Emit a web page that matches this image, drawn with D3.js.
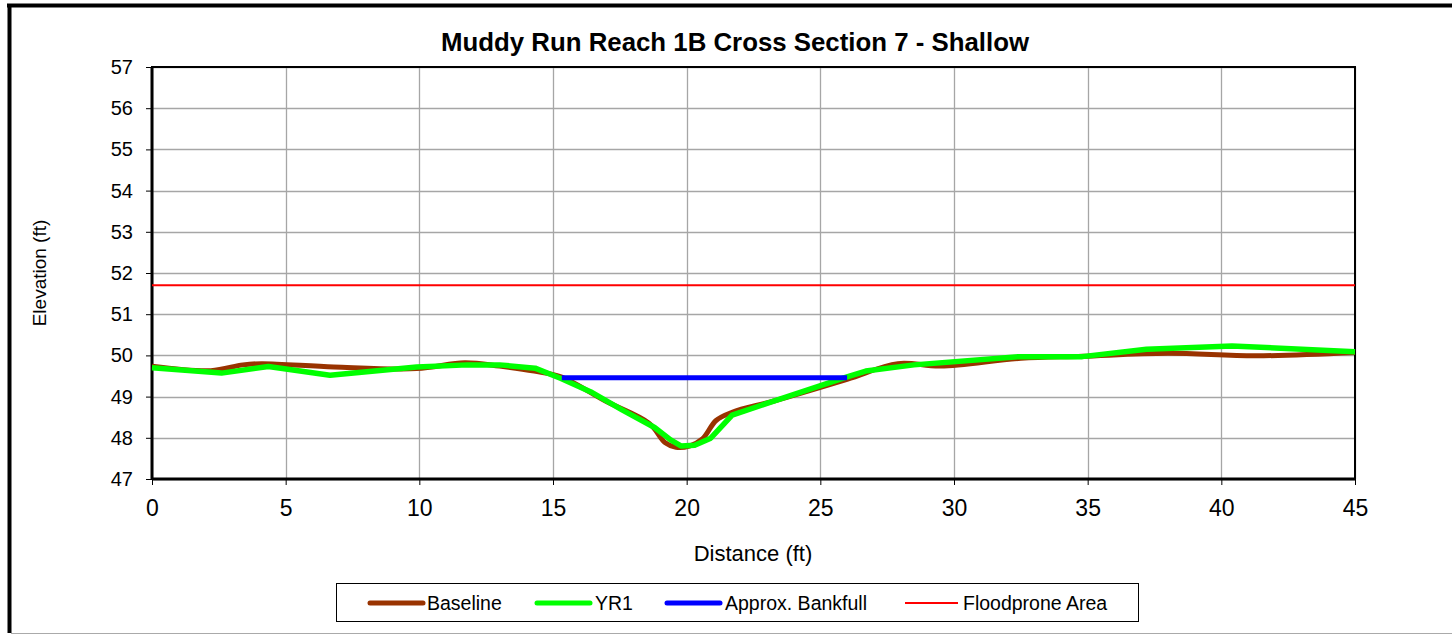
<!DOCTYPE html>
<html>
<head>
<meta charset="utf-8">
<script src="https://cdn.jsdelivr.net/npm/d3@7"></script>
<style>
  html, body { margin: 0; padding: 0; background: #fff; }
  svg { display: block; font-family: "Liberation Sans", Arial, sans-serif; }
</style>
</head>
<body>
<svg id="chart" width="1452" height="635"></svg>
<script>
const title = "Muddy Run Reach 1B Cross Section 7 - Shallow";
const xTicks = [0, 5, 10, 15, 20, 25, 30, 35, 40, 45];
const yTicks = [47, 48, 49, 50, 51, 52, 53, 54, 55, 56, 57];

const baselineX = [0, 2.2, 3.4, 4.1, 6.8, 9.9, 11.7, 13.0, 14.3, 15.3, 17.0, 18.6, 19.2, 19.6, 20.1, 20.6, 21.1, 21.7, 23.3, 26.0, 27.9, 29.5, 32.5, 34.8, 38.0, 41.3, 45];
const baselineY = [49.74, 49.63, 49.77, 49.80, 49.72, 49.68, 49.82, 49.74, 49.62, 49.48, 48.88, 48.35, 47.88, 47.77, 47.80, 47.98, 48.42, 48.62, 48.90, 49.42, 49.80, 49.74, 49.93, 49.98, 50.05, 49.99, 50.07];

const yr1X = [0, 2.6, 4.35, 6.66, 9.9, 11.8, 13.0, 14.33, 15.3, 16.4, 17.6, 18.8, 19.4, 19.8, 20.3, 20.9, 21.7, 23.2, 26.0, 26.7, 28.5, 32.4, 34.8, 37.2, 40.4, 45];
const yr1Y = [49.70, 49.57, 49.73, 49.52, 49.72, 49.77, 49.77, 49.69, 49.44, 49.12, 48.67, 48.25, 47.95, 47.80, 47.82, 47.99, 48.55, 48.88, 49.48, 49.62, 49.77, 49.97, 49.97, 50.15, 50.23, 50.09];

const bankfullX = [15.33, 26.0];
const bankfullY = [49.46, 49.46];

const floodX = [0, 45];
const floodY = [51.7, 51.7];

const legendNames = ["Baseline", "YR1", "Approx. Bankfull", "Floodprone Area"];
const legendColors = ["#993300", "#00FF00", "#0000FF", "#FF0000"];

const svg = d3.select("#chart");

// outer frame
svg.append("line").attr("x1", 9.5).attr("x2", 9.5).attr("y1", 4).attr("y2", 633)
  .attr("stroke", "#000").attr("stroke-width", 4);
svg.append("line").attr("x1", 7).attr("x2", 1452).attr("y1", 5.5).attr("y2", 5.5)
  .attr("stroke", "#000").attr("stroke-width", 4);
svg.append("line").attr("x1", 11).attr("x2", 1452).attr("y1", 633.5).attr("y2", 633.5)
  .attr("stroke", "#aaa").attr("stroke-width", 1);

const L = 152, R = 1355, T = 67, B = 479;
const x = d3.scaleLinear().domain([0, 45]).range([L, R]);
const y = d3.scaleLinear().domain([47, 57]).range([B, T]);

// title
svg.append("text").attr("x", 735).attr("y", 51).attr("text-anchor", "middle")
  .attr("font-size", 25).attr("font-weight", "bold")
  .attr("textLength", 588).attr("lengthAdjust", "spacingAndGlyphs").text(title);

// gridlines
const g = svg.append("g");
g.selectAll(".hg").data(yTicks).join("line")
  .attr("x1", L).attr("x2", R).attr("y1", d => Math.round(y(d)) + 0.5).attr("y2", d => Math.round(y(d)) + 0.5)
  .attr("stroke", "#a6a6a6").attr("stroke-width", 1.3);
g.selectAll(".vg").data(xTicks).join("line")
  .attr("y1", T).attr("y2", B).attr("x1", d => Math.round(x(d)) + 0.5).attr("x2", d => Math.round(x(d)) + 0.5)
  .attr("stroke", "#a6a6a6").attr("stroke-width", 1.3);

// axes
const yAxis = d3.axisLeft(y).tickValues(yTicks).tickSize(6).tickPadding(13).tickFormat(d3.format("d"));
const yg = svg.append("g").attr("transform", `translate(${L},0)`).call(yAxis);
yg.select(".domain").remove();
yg.selectAll("text").attr("font-size", 20).attr("fill", "#000").attr("font-family", "Liberation Sans, Arial, sans-serif");
yg.selectAll("line").attr("stroke", "#000");

const xAxis = d3.axisBottom(x).tickValues(xTicks).tickSize(6).tickPadding(15).tickFormat(d3.format("d"));
const xg = svg.append("g").attr("transform", `translate(0,${B})`).call(xAxis);
xg.select(".domain").remove();
xg.selectAll("text").attr("font-size", 23).attr("fill", "#000").attr("font-family", "Liberation Sans, Arial, sans-serif");
xg.selectAll("line").attr("stroke", "#000");

// plot frame
svg.append("rect").attr("x", L).attr("y", T).attr("width", R - L).attr("height", B - T)
  .attr("fill", "none").attr("stroke", "#000").attr("stroke-width", 2);
svg.append("line").attr("x1", L).attr("x2", L).attr("y1", T).attr("y2", B).attr("stroke", "#000").attr("stroke-width", 3);
svg.append("line").attr("x1", L).attr("x2", R).attr("y1", B).attr("y2", B).attr("stroke", "#000").attr("stroke-width", 3);

// axis titles
svg.append("text").attr("x", 753).attr("y", 561).attr("text-anchor", "middle")
  .attr("font-size", 22).text("Distance (ft)");
svg.append("text").attr("transform", "translate(46,273) rotate(-90)").attr("text-anchor", "middle")
  .attr("font-size", 19).text("Elevation (ft)");

// series
const zip = (xs, ys) => xs.map((v, i) => [v, ys[i]]);
const lineStraight = d3.line().x(d => x(d[0])).y(d => y(d[1]));
const lineSmooth = d3.line().x(d => x(d[0])).y(d => y(d[1])).curve(d3.curveCatmullRom.alpha(0.5));

const plot = svg.append("g");
plot.append("path").datum(zip(floodX, floodY)).attr("d", lineStraight)
  .attr("fill", "none").attr("stroke", legendColors[3]).attr("stroke-width", 2);
plot.append("path").datum(zip(baselineX, baselineY)).attr("d", lineSmooth)
  .attr("fill", "none").attr("stroke", legendColors[0]).attr("stroke-width", 5).attr("stroke-linejoin", "round");
plot.append("path").datum(zip(yr1X, yr1Y)).attr("d", lineStraight)
  .attr("fill", "none").attr("stroke", legendColors[1]).attr("stroke-width", 5.5).attr("stroke-linejoin", "round");
plot.append("path").datum(zip(bankfullX, bankfullY)).attr("d", lineStraight)
  .attr("fill", "none").attr("stroke", legendColors[2]).attr("stroke-width", 5);

// legend
const lg = svg.append("g");
lg.append("rect").attr("x", 336.5).attr("y", 583.5).attr("width", 802).attr("height", 38)
  .attr("fill", "#fff").attr("stroke", "#000").attr("stroke-width", 1);
const legLineX = [370, 537, 667, 905];
const legTextX = [427, 595, 725, 963];
const legWidths = [5, 5, 5, 2];
legendNames.forEach((name, i) => {
  lg.append("line").attr("x1", legLineX[i]).attr("x2", legLineX[i] + 53).attr("y1", 603).attr("y2", 603)
    .attr("stroke", legendColors[i]).attr("stroke-width", legWidths[i]).attr("stroke-linecap", i < 3 ? "round" : "butt");
  lg.append("text").attr("x", legTextX[i]).attr("y", 609.5).attr("font-size", 19.5).text(name);
});
</script>
</body>
</html>
